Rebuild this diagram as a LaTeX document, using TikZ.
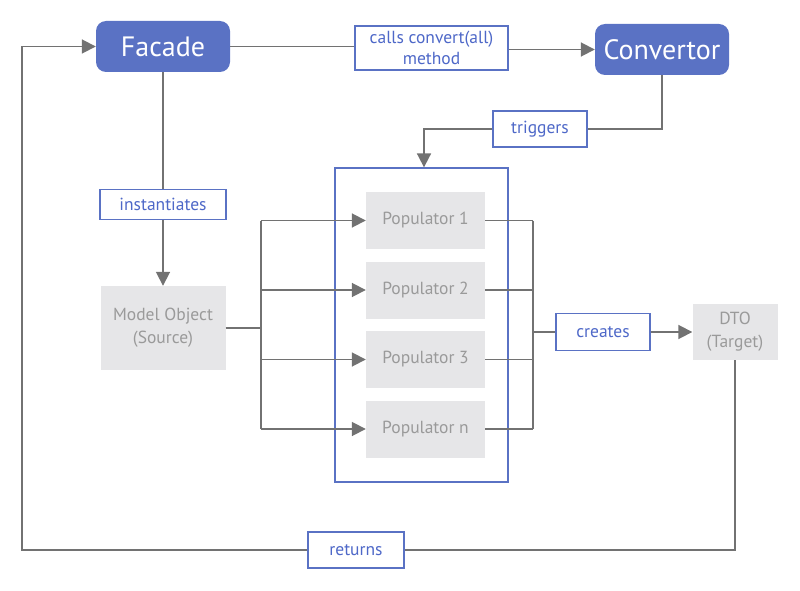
\documentclass[tikz,border=0pt]{standalone}
\usepackage{fontspec}
\setmainfont{PT Sans}
\usetikzlibrary{arrows.meta}
\definecolor{mainblue}{HTML}{5A72C4}
\definecolor{lblblue}{HTML}{4E68C8}
\definecolor{linegray}{HTML}{727272}
\definecolor{boxgray}{HTML}{E6E6E8}
\definecolor{txtgray}{HTML}{9A9A9A}
\begin{document}
\begin{tikzpicture}[x=1pt,y=-1pt,
  mainbox/.style={fill=mainblue, rounded corners=10pt, text=white, minimum width=134pt, minimum height=51pt, inner sep=0pt, font=\fontsize{28}{30}\selectfont},
  lbl/.style={draw=mainblue, line width=1.3pt, fill=white, text=lblblue, inner sep=0pt, align=center, font=\fontsize{17.5}{21}\selectfont},
  gbox/.style={fill=boxgray, text=txtgray, inner sep=0pt, align=center, font=\fontsize{17.5}{23}\selectfont},
  popbox/.style={gbox, minimum width=119pt, minimum height=57pt},
  conn/.style={draw=linegray, line width=1.8pt},
  arr/.style={conn, -{Triangle[length=14pt,width=14pt]}},
]
\useasboundingbox (0,0) rectangle (800,591);

% container
\node[draw=mainblue, line width=1.3pt, minimum width=173pt, minimum height=314pt, inner sep=0pt] (cont) at (421.5,325) {};

% nodes
\node[mainbox] (facade) at (163,46.5) {Facade};
\node[mainbox] (conv) at (662,49.5) {Convertor};
\node[lbl, minimum width=153pt, minimum height=44pt] (calls) at (431.5,48) {calls convert(all)\\method};
\node[lbl, minimum width=94pt, minimum height=36pt] (trig) at (540,129) {triggers};
\node[lbl, minimum width=126pt, minimum height=30pt] (inst) at (163,204.5) {instantiates};
\node[gbox, minimum width=125pt, minimum height=84pt] (model) at (163,328) {Model Object\\(Source)};
\node[popbox] (p1) at (425.5,220.5) {Populator 1};
\node[popbox] (p2) at (425.5,290) {Populator 2};
\node[popbox] (p3) at (425.5,359.5) {Populator 3};
\node[popbox] (pn) at (425.5,429) {Populator n};
\node[lbl, minimum width=94pt, minimum height=37pt] (creates) at (603,332) {creates};
\node[gbox, minimum width=85pt, minimum height=56pt] (dto) at (735,332) {DTO\\(Target)};
\node[lbl, minimum width=96pt, minimum height=36pt] (ret) at (356,550) {returns};

\coordinate (busL) at (261,0);
\coordinate (busR) at (533,0);
\coordinate (trigL) at (424,0);
\coordinate (loopL) at (22,550);

% top flow
\draw[conn] (facade.east) -- (facade.east -| calls.west);
\draw[arr] (calls.east |- conv.west) -- (conv.west);
\draw[conn] (conv.south) |- (trig.east);
\draw[arr] (trig.west) -| (trigL |- cont.north);

% facade -> model
\draw[conn] (facade.south) -- (inst.north);
\draw[arr] (inst.south) -- (model.north);

% model -> populators
\draw[conn] (model.east) -- (model.east -| busL);
\draw[conn] (busL |- p1) -- (busL |- pn);
\foreach \p in {p1,p2,p3,pn}{
  \draw[arr] (busL |- \p) -- (\p.west);
  \draw[conn] (\p.east) -- (\p.east -| busR);
}
\draw[conn] (busR |- p1) -- (busR |- pn);
\draw[conn] (busR |- creates) -- (creates.west);
\draw[arr] (creates.east) -- (dto.west);

% return loop
\draw[conn] (dto.south) |- (ret.east);
\draw[arr] (ret.west) -- (loopL) |- (facade.west);
\end{tikzpicture}
\end{document}
